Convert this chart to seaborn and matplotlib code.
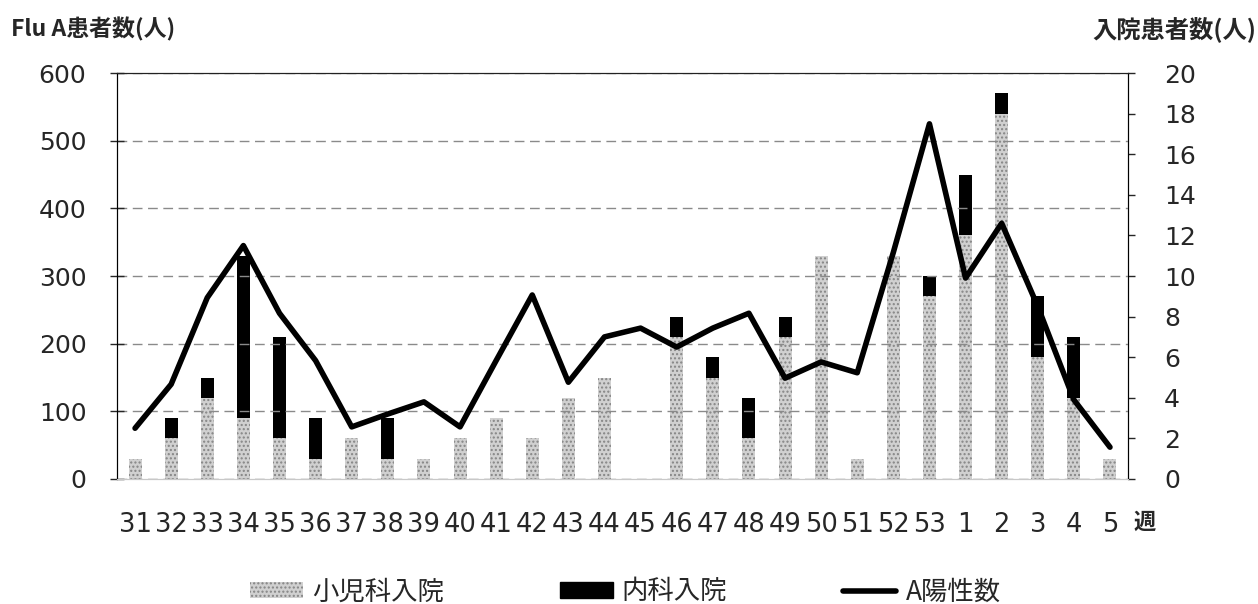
import numpy as np
import pandas as pd
import matplotlib
matplotlib.use("Agg")
import matplotlib.pyplot as plt
from matplotlib.patches import Patch
from matplotlib.lines import Line2D
import seaborn as sns

weeks = ["31", "32", "33", "34", "35", "36", "37", "38", "39", "40", "41", "42", "43", "44",
         "45", "46", "47", "48", "49", "50", "51", "52", "53", "1", "2", "3", "4", "5"]
pediatric = [1, 2, 4, 3, 2, 1, 2, 1, 1, 2, 3, 2, 4, 5, 0, 7, 5, 2, 7, 11, 1, 11, 9, 12, 18, 6, 4, 1]
internal = [0, 1, 1, 8, 5, 2, 0, 2, 0, 0, 0, 0, 0, 0, 0, 1, 1, 2, 1, 0, 0, 0, 1, 3, 1, 3, 3, 0]
a_positive = [75, 140, 268, 345, 245, 175, 77, 96, 114, 77, 175, 272, 143, 210, 223, 195, 223, 245,
              149, 173, 157, 335, 525, 297, 378, 255, 117, 47]

df = pd.DataFrame({"week": weeks, "ped": pediatric, "int": internal, "pos": a_positive})
df["total"] = df["ped"] + df["int"]
df["idx"] = np.arange(len(df))

sns.set_style("white")
plt.rcParams["font.family"] = ["DejaVu Sans", "Noto Sans CJK JP"]
plt.rcParams["hatch.linewidth"] = 1.0

CJK = ["Noto Sans CJK JP", "DejaVu Sans"]

fig = plt.figure(figsize=(12.58, 6.04), dpi=100)
ax = fig.add_axes([0.093, 0.207, 0.8037, 0.672])
ax2 = ax.twinx()

order = list(range(len(df)))
# bars on right axis (stacked: black total, gray pediatric drawn over its lower part)
sns.barplot(data=df, x="idx", y="total", color="black", width=0.36, ax=ax2,
            saturation=1, linewidth=0, order=order)
sns.barplot(data=df, x="idx", y="ped", color="#d0d0d0", width=0.36, ax=ax2,
            saturation=1, linewidth=0, hatch="....", edgecolor="#858585", order=order)

# line on left axis
sns.lineplot(data=df, x="idx", y="pos", color="black", linewidth=4.0, ax=ax, zorder=5)

ax.set_zorder(ax2.get_zorder() + 1)
ax.patch.set_visible(False)

ax.set_ylim(0, 600)
ax.set_yticks(range(0, 601, 100))
ax2.set_ylim(0, 20)
ax2.set_yticks(range(0, 21, 2))
ax.set_xlim(-0.5, len(df) - 0.5)

ax.yaxis.grid(True, color="#8a8a8a", linestyle=(0, (7, 4)), linewidth=1.0)
ax.xaxis.grid(False)
ax2.grid(False)

ax.set_xticks(df["idx"])
ax.set_xticklabels(weeks, fontsize=18.5, family="DejaVu Sans")
ax.set_xticks(np.arange(len(df) - 1) + 0.5, minor=True)
ax.tick_params(axis="x", which="major", length=0, pad=24)
ax.tick_params(axis="x", which="minor", length=6, width=1, color="#333333", direction="out")
ax.tick_params(axis="y", labelsize=18, length=10, width=1, direction="inout", left=True, pad=17)
ax2.tick_params(axis="y", labelsize=18, length=5, width=1, direction="out", right=True, pad=21)
for lab in ax.get_yticklabels() + ax2.get_yticklabels():
    lab.set_family("DejaVu Sans")

ax.set_xlabel("")
ax.set_ylabel("")
ax2.set_xlabel("")
ax2.set_ylabel("")

for a in (ax, ax2):
    a.spines["left"].set_color("black")
    a.spines["right"].set_color("black")
    a.spines["top"].set_color("#222222")
    a.spines["bottom"].set_color("#c8c8c8")
    a.spines["bottom"].set_linewidth(0.8)
    for s in a.spines.values():
        s.set_visible(True)

ax.text(1.0055, -0.107, "週", transform=ax.transAxes, fontsize=16,
        family=CJK, fontweight="bold", ha="left", va="center")

fig.text(0.009, 0.952, "Flu A患者数(人)", fontsize=16.5, fontweight="bold",
         family=CJK, ha="left", va="center")
fig.text(0.999, 0.952, "入院患者数(人)", fontsize=17.5, fontweight="bold",
         family=CJK, ha="right", va="center")

handles = [
    Patch(facecolor="#d0d0d0", hatch="....", edgecolor="#858585", linewidth=0, label="小児科入院"),
    Patch(facecolor="black", edgecolor="black", label="内科入院"),
    Line2D([0], [0], color="black", linewidth=4.0, label="A陽性数"),
]
fig.legend(handles=handles, loc="center", bbox_to_anchor=(0.497, 0.02), ncol=3, frameon=False,
           prop={"family": CJK, "size": 19}, handlelength=2.0,
           handleheight=0.55, columnspacing=4.4, handletextpad=0.35)

fig.savefig("out.png", dpi=100)
